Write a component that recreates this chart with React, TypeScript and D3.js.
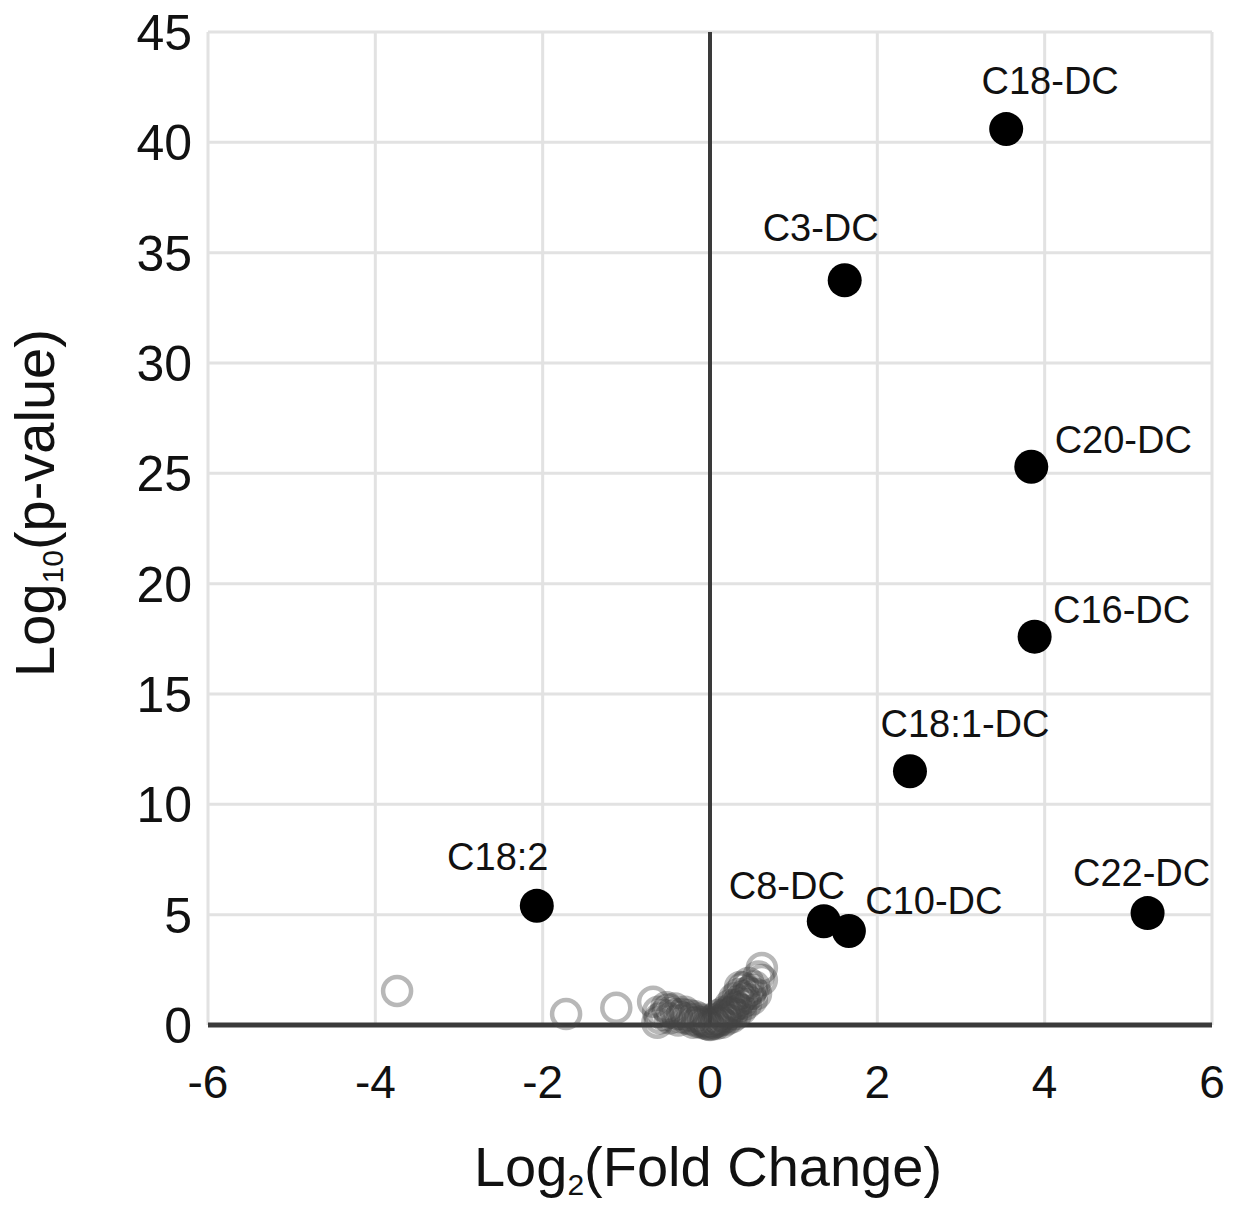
import * as d3 from "d3";

const WIDTH = 1251;
const HEIGHT = 1205;
const MARGIN = { top: 32, right: 39, bottom: 180, left: 208 };

const X_TICKS = [-6, -4, -2, 0, 2, 4, 6];
const Y_TICKS = [0, 5, 10, 15, 20, 25, 30, 35, 40, 45];

// labelled (significant) metabolites
const HIT_NAMES = ["C18-DC", "C3-DC", "C20-DC", "C16-DC", "C18:1-DC", "C18:2", "C8-DC", "C10-DC", "C22-DC"];
const HIT_LOG2FC = [3.54, 1.61, 3.84, 3.88, 2.39, -2.07, 1.36, 1.66, 5.23];
const HIT_LOGP = [40.6, 33.75, 25.3, 17.6, 11.5, 5.4, 4.7, 4.26, 5.07];

// non-significant metabolites (open grey circles)
const NS_LOG2FC = [
  -3.74, -1.72, -1.12, -0.68, -0.63, -0.62, -0.55, -0.5, -0.45, -0.4, -0.35, -0.3, -0.28,
  -0.22, -0.18, -0.15, -0.1, -0.08, -0.05, -0.02, 0.02, 0.05, 0.08, 0.1, 0.12, 0.15, 0.18,
  0.2, 0.22, 0.25, 0.27, 0.3, 0.32, 0.35, 0.38, 0.4, 0.42, 0.45, 0.48, 0.5, 0.36, 0.62, 0.62,
  -0.6, -0.52, -0.48, -0.42, -0.38, -0.33, -0.25, -0.2, -0.12, -0.06,
  0.0, 0.04, 0.07, 0.1, 0.14, 0.17, 0.2, 0.24, 0.26, 0.29, 0.31, 0.34, 0.37, 0.4, 0.43, 0.46,
  0.5, 0.53, 0.55, 0.58,
];
const NS_LOGP = [
  1.54, 0.5, 0.78, 1.05, 0.1, 0.6, 0.45, 0.7, 0.55, 0.5, 0.35, 0.6, 0.3,
  0.25, 0.4, 0.15, 0.1, 0.2, 0.05, 0.02, 0.03, 0.1, 0.15, 0.25, 0.2, 0.4, 0.35,
  0.55, 0.5, 0.7, 0.6, 0.9, 0.8, 1.1, 1.0, 1.3, 1.2, 1.5, 1.4, 1.6, 1.72, 2.04, 2.58,
  0.3, 0.8, 0.3, 0.75, 0.2, 0.5, 0.45, 0.1, 0.3, 0.12,
  0.0, 0.25, 0.05, 0.45, 0.1, 0.6, 0.25, 0.9, 0.35, 1.2, 0.5, 1.4, 0.7, 1.7, 0.95, 1.9,
  1.15, 1.75, 1.4, 2.2,
];

// label placement relative to the dot (pixels, text-anchor middle, baseline)
const LABEL_OFFSET: Record<string, [number, number]> = {
  "C18-DC": [44, -35],
  "C3-DC": [-24, -39],
  "C20-DC": [92, -14],
  "C16-DC": [87, -14],
  "C18:1-DC": [55, -34],
  "C18:2": [-39, -36],
  "C8-DC": [-37, -22],
  "C10-DC": [85, -17],
  "C22-DC": [-6, -27],
};

const FONT = "'Liberation Sans', Arial, Helvetica, sans-serif";

export default function App() {
  const x = d3.scaleLinear().domain([-6, 6]).range([MARGIN.left, WIDTH - MARGIN.right]);
  const y = d3.scaleLinear().domain([0, 45]).range([HEIGHT - MARGIN.bottom, MARGIN.top]);

  const hits = HIT_NAMES.map((name, i) => ({ name, fc: HIT_LOG2FC[i], p: HIT_LOGP[i] }));
  const ns = NS_LOG2FC.map((fc, i) => ({ fc, p: NS_LOGP[i] }));

  const [x0, x1] = x.range();
  const [y0, y1] = y.range();

  return (
    <svg
      width={WIDTH}
      height={HEIGHT}
      style={{ position: "absolute", left: 0, top: 0, background: "#fff" }}
      fontFamily={FONT}
    >
      {/* grid */}
      <g stroke="#e2e2e2" strokeWidth={3}>
        {Y_TICKS.filter((t) => t !== 0).map((t) => (
          <line key={"gy" + t} x1={x0} x2={x1} y1={y(t)} y2={y(t)} />
        ))}
        {X_TICKS.filter((t) => t !== 0).map((t) => (
          <line key={"gx" + t} x1={x(t)} x2={x(t)} y1={y1} y2={y0} />
        ))}
      </g>

      {/* axes through origin */}
      <line x1={x(0)} x2={x(0)} y1={y1} y2={y0} stroke="#3a3a3a" strokeWidth={4} />
      <line x1={x0} x2={x1} y1={y(0)} y2={y(0)} stroke="#3a3a3a" strokeWidth={5} />

      {/* tick labels */}
      <g fontSize={50} fill="#111" textAnchor="end">
        {Y_TICKS.map((t) => (
          <text key={"ty" + t} x={192} y={y(t) + 18}>
            {t}
          </text>
        ))}
      </g>
      <g fontSize={46} fill="#111" textAnchor="middle">
        {X_TICKS.map((t) => (
          <text key={"tx" + t} x={x(t)} y={y(0) + 73}>
            {t < 0 ? "-" + Math.abs(t) : t}
          </text>
        ))}
      </g>

      {/* non-significant points */}
      <g fill="none" stroke="#444" strokeOpacity={0.38} strokeWidth={4.5}>
        {ns.map((d, i) => (
          <circle key={"ns" + i} cx={x(d.fc)} cy={y(d.p)} r={14} />
        ))}
      </g>

      {/* significant points */}
      <g fill="#000">
        {hits.map((d) => (
          <circle key={d.name} cx={x(d.fc)} cy={y(d.p)} r={17} />
        ))}
      </g>
      <g fontSize={38} fill="#111" textAnchor="middle">
        {hits.map((d) => {
          const [dx, dy] = LABEL_OFFSET[d.name];
          return (
            <text key={"l" + d.name} x={x(d.fc) + dx} y={y(d.p) + dy}>
              {d.name}
            </text>
          );
        })}
      </g>

      {/* axis titles */}
      <text x={708} y={1186} fontSize={56} textAnchor="middle" fill="#111">
        Log
        <tspan fontSize={30} dy={9}>2</tspan>
        <tspan dy={-9}>(Fold Change)</tspan>
      </text>
      <text
        transform={`translate(54, 503) rotate(-90)`}
        fontSize={56}
        textAnchor="middle"
        fill="#111"
      >
        Log
        <tspan fontSize={30} dy={9}>10</tspan>
        <tspan dy={-9}>(p-value)</tspan>
      </text>
    </svg>
  );
}
